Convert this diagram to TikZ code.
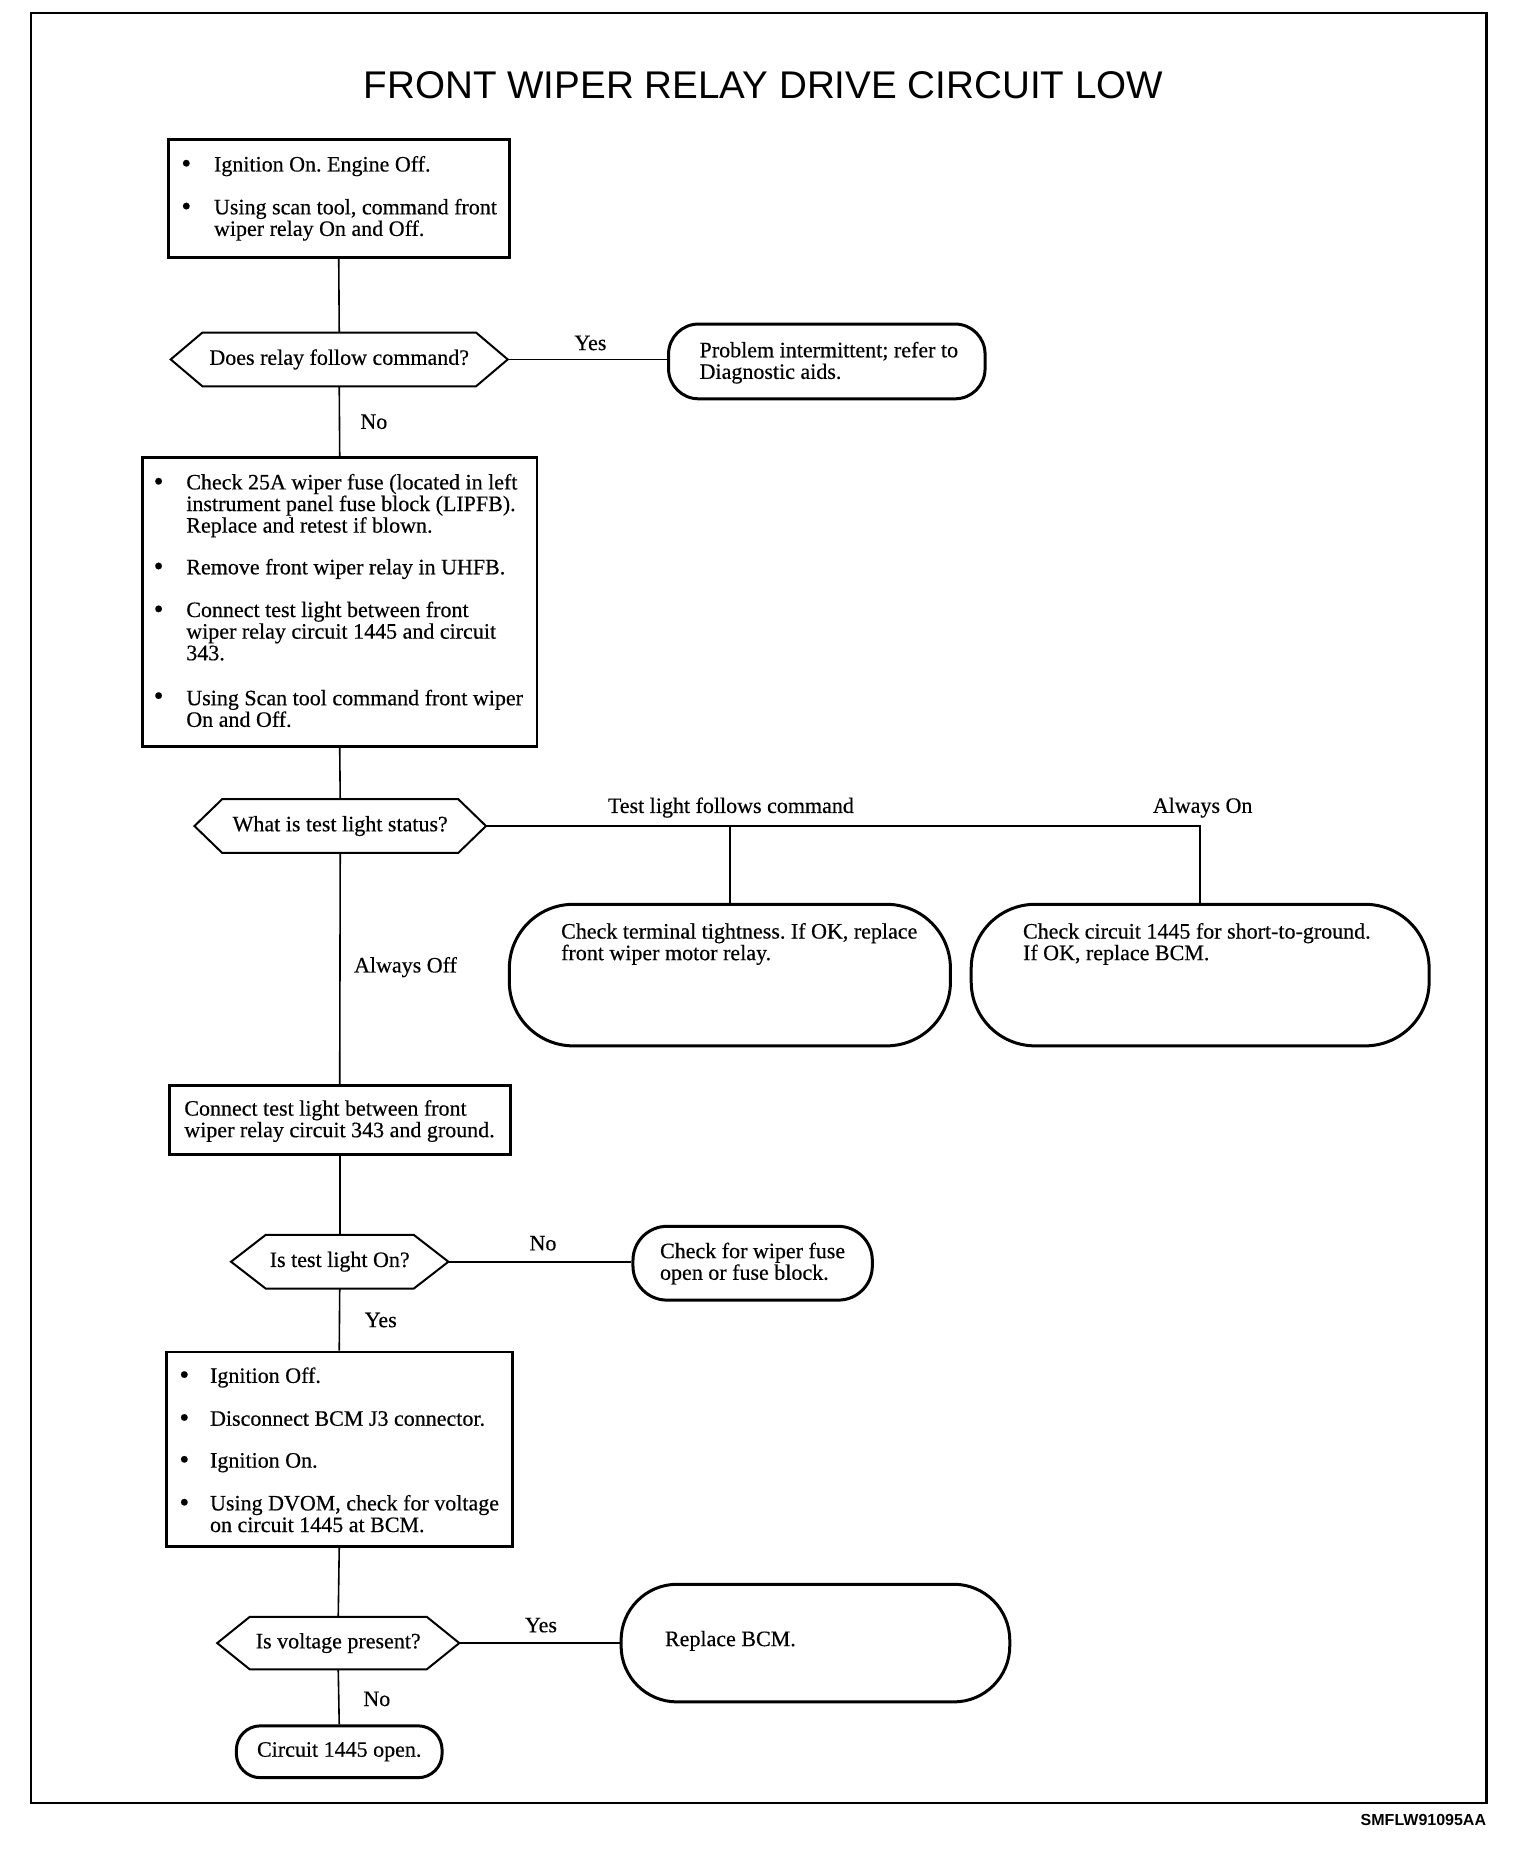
\documentclass[tikz,border=0pt]{standalone}
\usepackage{fontspec}
\setmainfont{Liberation Serif}[FakeBold=0.4]
\newfontfamily\titlefont{Liberation Sans}
\usetikzlibrary{fit,calc}
\newcommand{\drawhex}[2]{\draw[hexline] (#1.west) -- ($(#1.north west)+(#2,0)$) -- ($(#1.north east)+(-#2,0)$) -- (#1.east) -- ($(#1.south east)+(-#2,0)$) -- ($(#1.south west)+(#2,0)$) -- cycle;}
\begin{document}
\begin{tikzpicture}[x=0.4945pt,y=-0.4985pt,
  every node/.style={font=\fontsize{11pt}{10.8pt}\selectfont\frenchspacing, inner sep=0pt},
  boxnode/.style={draw, line width=1.4pt, inner sep=0pt},
  termnode/.style={draw, line width=1.5pt, inner sep=0pt},
  decnode/.style={inner sep=0pt},
  hexline/.style={line width=1pt, line join=miter},
  conn/.style={line width=0.8pt},
  txt/.style={anchor=base west, align=left},
  bul/.style={anchor=base west, font=\fontsize{14pt}{14pt}\selectfont},
  lbl/.style={anchor=center},
]
\useasboundingbox (0pt,0pt) rectangle (768pt,-927pt);
\draw[line width=1.1pt] (31,13) rectangle (1503,1808);

\node[font=\titlefont\fontsize{19.3pt}{22pt}\selectfont] (title) at (772,85) {FRONT WIPER RELAY DRIVE CIRCUIT LOW};

% box 1
\node[boxnode, fit={(170,140) (515,258)}] (b1) {};
\node[bul] (b1a) at (183,173) {\textbullet};
\node[txt] (b1at) at (216,172) {Ignition On. Engine Off.};
\node[bul] (b1b) at (183,216) {\textbullet};
\node[txt] (b1bt) at (216,236.6) {Using scan tool, command front\\wiper relay On and Off.};

% decision 1
\node[decnode, fit={(173,334) (513,387)}] (d1) {};
\drawhex{d1}{32}
\node (d1t) at (d1.center) {Does relay follow command?};

% terminal 1
\node[termnode, rounded corners=15pt, fit={(676,325) (996,400)}] (t1) {};
\node[txt] (t1t) at (707,380) {Problem intermittent; refer to\\Diagnostic aids.};

% box 2
\node[boxnode, fit={(144,459) (543,749)}] (b2) {};
\node[bul] (b2a) at (155,492) {\textbullet};
\node[txt] (b2at) at (188,534.2) {Check 25A wiper fuse (located in left\\instrument panel fuse block (LIPFB).\\Replace and retest if blown.};
\node[bul] (b2b) at (155,577) {\textbullet};
\node[txt] (b2bt) at (188,576) {Remove front wiper relay in UHFB.};
\node[bul] (b2c) at (155,620) {\textbullet};
\node[txt] (b2ct) at (188,662.2) {Connect test light between front\\wiper relay circuit 1445 and circuit\\343.};
\node[bul] (b2d) at (155,707) {\textbullet};
\node[txt] (b2dt) at (188,729) {Using Scan tool command front wiper\\On and Off.};

% decision 2
\node[decnode, fit={(197,802) (491,855)}] (d2) {};
\drawhex{d2}{28}
\node (d2t) at (d2.center) {What is test light status?};

% terminals 2,3
\node[termnode, rounded corners=32pt, fit={(515,907) (961,1049)}] (t2) {};
\node[txt] (t2t) at (567,963) {Check terminal tightness. If OK, replace\\front wiper motor relay.};
\node[termnode, rounded corners=32pt, fit={(982,907) (1445,1049)}] (t3) {};
\node[txt] (t3t) at (1034,963) {Check circuit 1445 for short-to-ground.\\If OK, replace BCM.};

% box 3
\node[boxnode, fit={(171,1089) (516,1158)}] (b3) {};
\node[txt] (b3t) at (186,1140.6) {Connect test light between front\\wiper relay circuit 343 and ground.};

% decision 3
\node[decnode, fit={(234,1239) (453,1292)}] (d3) {};
\drawhex{d3}{35}
\node (d3t) at (d3.center) {Is test light On?};

% terminal 4
\node[termnode, rounded corners=17pt, fit={(640,1230) (882,1304)}] (t4) {};
\node[txt] (t4t) at (667,1283.6) {Check for wiper fuse\\open or fuse block.};

% box 4
\node[boxnode, fit={(168,1356) (518,1551)}] (b4) {};
\node[bul] (b4a) at (181,1388) {\textbullet};
\node[txt] (b4at) at (212,1387) {Ignition Off.};
\node[bul] (b4b) at (181,1431) {\textbullet};
\node[txt] (b4bt) at (212,1430) {Disconnect BCM J3 connector.};
\node[bul] (b4c) at (181,1473) {\textbullet};
\node[txt] (b4ct) at (212,1472) {Ignition On.};
\node[bul] (b4d) at (181,1516) {\textbullet};
\node[txt] (b4dt) at (212,1536.6) {Using DVOM, check for voltage\\on circuit 1445 at BCM.};

% decision 4
\node[decnode, fit={(220,1622) (464,1674)}] (d4) {};
\drawhex{d4}{33}
\node (d4t) at (d4.center) {Is voltage present?};

% terminal 5
\node[termnode, rounded corners=28pt, fit={(628,1589) (1021,1707)}] (t5) {};
\node[txt] (t5t) at (672,1651) {Replace BCM.};

% terminal 6
\node[termnode, rounded corners=12pt, fit={(239,1731) (447,1783)}] (t6) {};
\node (t6t) at (t6.center) {Circuit 1445 open.};

% connectors
\draw[conn] (b1.south) -- (d1.north);
\draw[conn] (d1.east) -- (d1.east -| t1.west);
\draw[conn] (d1.south) -- (b2.north);
\draw[conn] (b2.south) -- (d2.north);
\coordinate (j1) at (t2.north |- d2.east);
\coordinate (j2) at (t3.north |- d2.east);
\draw[conn] (d2.east) -- (j2) -- (t3.north);
\draw[conn] (j1) -- (t2.north);
\draw[conn] (d2.south) -- (b3.north);
\draw[conn] (b3.south) -- (d3.north);
\draw[conn] (d3.east) -- (d3.east -| t4.west);
\draw[conn] (d3.south) -- (b4.north);
\draw[conn] (b4.south) -- (d4.north);
\draw[conn] (d4.east) -- (d4.east -| t5.west);
\draw[conn] (d4.south) -- (t6.north);

% labels
\node[lbl] (l1) at (597,344) {Yes};
\node[lbl] (l2) at (378,423) {No};
\node[lbl] (l3) at (739,810) {Test light follows command};
\node[lbl] (l4) at (1216,810) {Always On};
\node[lbl] (l5) at (410,970) {Always Off};
\node[lbl] (l6) at (549,1247) {No};
\node[lbl] (l7) at (385,1324) {Yes};
\node[lbl] (l8) at (547,1630) {Yes};
\node[lbl] (l9) at (381,1704) {No};

\node[anchor=east, font=\titlefont\bfseries\fontsize{8pt}{9pt}\selectfont] (code) at (1503,1825) {SMFLW91095AA};
\end{tikzpicture}
\end{document}
